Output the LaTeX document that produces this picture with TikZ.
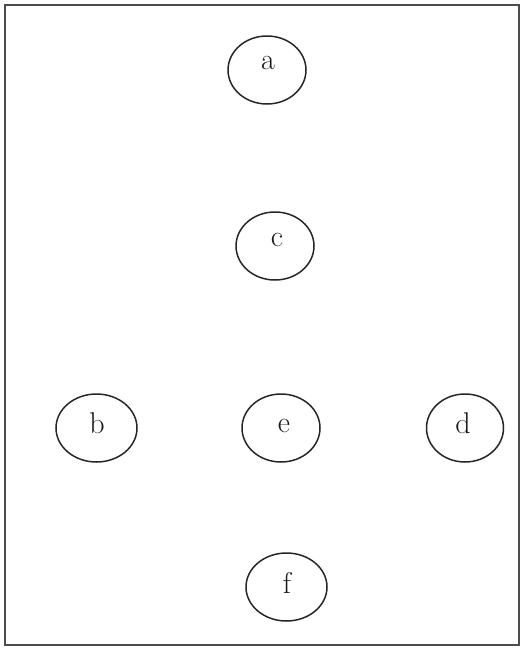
\documentclass[tikz,border=0pt]{standalone}
\usetikzlibrary{shapes.geometric}
\begin{document}
\begin{tikzpicture}[x=1pt,y=-1pt,
  vert/.style={draw=black!85,line width=1.5pt,ellipse,minimum width=78pt,minimum height=68pt,inner sep=0pt},
  lbl/.style={font=\fontsize{30}{36}\selectfont,inner sep=0pt,text=black!90}]
\useasboundingbox (0,0) rectangle (524,648);
\node[draw=black!70,line width=2pt,minimum width=514pt,minimum height=640pt,inner sep=0pt] (frame) at (261.5,325) {};
\node[vert] (a) at (267,70) {};
\node[vert] (c) at (275,246) {};
\node[vert,minimum width=81pt] (b) at (96.5,428) {};
\node[vert] (e) at (281,428) {};
\node[vert,minimum width=77pt] (d) at (465,428) {};
\node[vert,minimum width=81pt] (f) at (286.5,587) {};
\node[lbl] (la) at (268,63) {a};
\node[lbl] (lc) at (277,240) {c};
\node[lbl] (lb) at (97,423) {b};
\node[lbl] (le) at (284,426) {e};
\node[lbl] (ld) at (463,423) {d};
\node[lbl] (lf) at (287,583) {f};
\end{tikzpicture}
\end{document}
